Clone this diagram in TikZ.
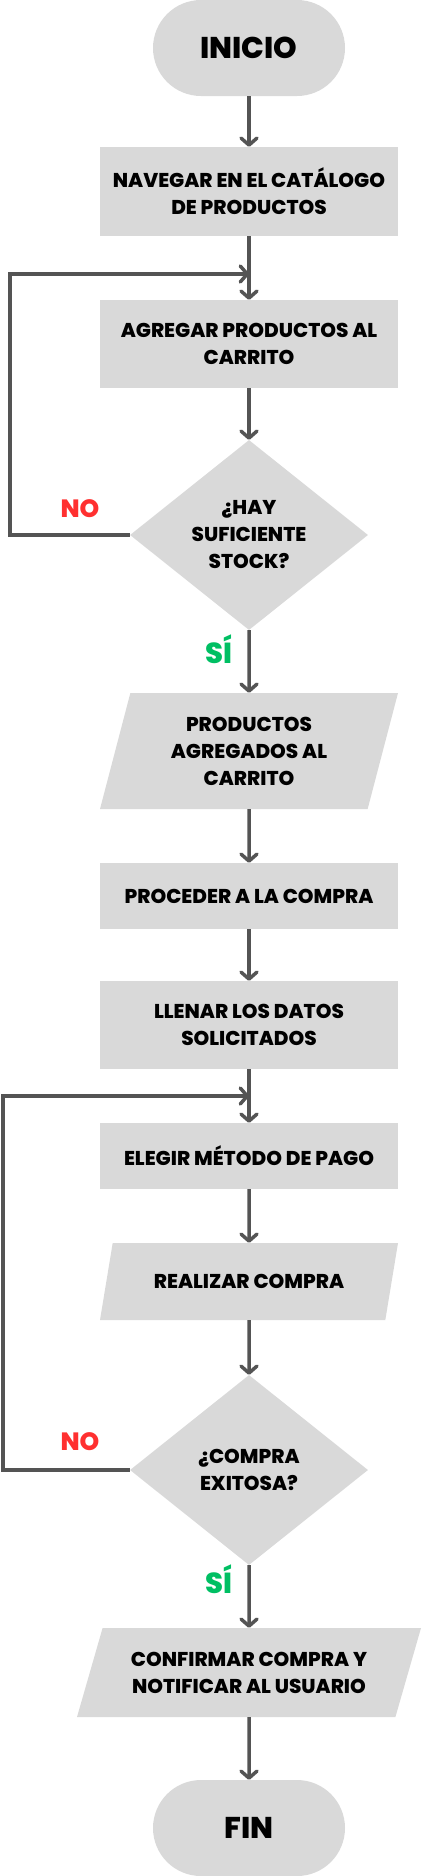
\documentclass[tikz,border=0pt]{standalone}
\usepackage{fontspec}
\setmainfont{Poppins}[BoldFont={Poppins ExtraBold}]
\usepackage{tikz}
\usetikzlibrary{shapes.geometric}
\usetikzlibrary{arrows.meta}
\usetikzlibrary{positioning}
\definecolor{BOX-GRAY}{rgb}{0.85,0.85,0.85}
\definecolor{LINE-GRAY}{rgb}{0.33,0.33,0.33}
\definecolor{NO-RED}{rgb}{1,0.19,0.19}
\definecolor{SI-GREEN}{rgb}{0,0.75,0.39}

\begin{document}
\begin{tikzpicture}[x=1pt,y=-1pt,every path/.style={>={Straight Barb[length=7pt,width=16pt,round]}},
	terminal/.style={rectangle,rounded corners=48pt,fill=BOX-GRAY,minimum width=192pt,minimum height=96pt,font=\fontsize{30}{34}\selectfont\bfseries},
	process/.style={rectangle,fill=BOX-GRAY,minimum width=298pt,inner xsep=2pt,align=center,font=\fontsize{20}{27}\selectfont\bfseries},
	decision/.style={diamond,fill=BOX-GRAY,aspect=1.25,inner sep=0pt,minimum width=238pt,minimum height=190pt,align=center,font=\fontsize{20}{27}\selectfont\bfseries},
	data/.style={trapezium,fill=BOX-GRAY,trapezium stretches body=true,inner xsep=2pt,align=center,font=\fontsize{20}{27}\selectfont\bfseries},
	flow/.style={->,draw=LINE-GRAY,line width=3.5pt},
	answer/.style={font=\fontsize{25}{30}\selectfont\bfseries}]
			\useasboundingbox (0,0) rectangle (422,1876);

			% draw nodes
			\node (n_inicio) at (249,48) [terminal] {INICIO};
			\node (n_navegar) at (249,191.5) [process,minimum height=89pt] {NAVEGAR EN EL CATÁLOGO\\DE PRODUCTOS};
			\node (n_agregar) at (249,344) [process,minimum height=88pt] {AGREGAR PRODUCTOS AL\\CARRITO};
			\node (n_stock) at (249,535) [decision] {¿HAY\\SUFICIENTE\\STOCK?};
			\node (n_agregados) at (249,751) [data,minimum width=298pt,minimum height=116pt,trapezium left angle=68,trapezium right angle=112] {PRODUCTOS\\AGREGADOS AL\\CARRITO};
			\node (n_proceder) at (249,896) [process,minimum height=66pt] {PROCEDER A LA COMPRA};
			\node (n_llenar) at (249,1025) [process,minimum height=88pt] {LLENAR LOS DATOS\\SOLICITADOS};
			\node (n_elegir) at (249,1156) [process,minimum height=66pt] {ELEGIR MÉTODO DE PAGO};
			\node (n_realizar) at (249,1281.5) [data,minimum width=298pt,minimum height=77pt,trapezium left angle=59,trapezium right angle=121] {REALIZAR COMPRA};
			\node (n_exito) at (249,1470) [decision] {¿COMPRA\\EXITOSA?};
			\node (n_confirmar) at (249,1672.5) [data,minimum width=344pt,minimum height=89pt,trapezium left angle=62,trapezium right angle=118] {CONFIRMAR COMPRA Y\\NOTIFICAR AL USUARIO};
			\node (n_fin) at (249,1828) [terminal] {FIN};

			% draw labels
			\node (l_no_stock) at (80,509) [answer,text=NO-RED] {NO};
			\node (l_si_stock) at (219,649.5) [answer,text=SI-GREEN,font=\fontsize{29}{30}\selectfont\bfseries] {SÍ};
			\node (l_no_exito) at (80,1441.5) [answer,text=NO-RED] {NO};
			\node (l_si_exito) at (219,1579.5) [answer,text=SI-GREEN,font=\fontsize{29}{30}\selectfont\bfseries] {SÍ};

			% draw arrows
			\coordinate (j_stock) at (249,274);
			\coordinate (j_exito) at (249,1096);
			\draw[flow] (n_inicio.south) to (n_navegar.north);
			\draw[flow] (n_navegar.south) to (n_agregar.north);
			\draw[flow] (n_agregar.south) to (n_stock.north);
			\draw[flow] (n_stock.south) to (n_agregados.north);
			\draw[flow] (n_agregados.south) to (n_proceder.north);
			\draw[flow] (n_proceder.south) to (n_llenar.north);
			\draw[flow] (n_llenar.south) to (n_elegir.north);
			\draw[flow] (n_elegir.south) to (n_realizar.north);
			\draw[flow] (n_realizar.south) to (n_exito.north);
			\draw[flow] (n_exito.south) to (n_confirmar.north);
			\draw[flow] (n_confirmar.south) to (n_fin.north);
			\draw[flow] (n_stock.west) -- ++(-120,0) |- (j_stock);
			\draw[flow] (n_exito.west) -- ++(-127,0) |- (j_exito);
		\end{tikzpicture}
\end{document}
